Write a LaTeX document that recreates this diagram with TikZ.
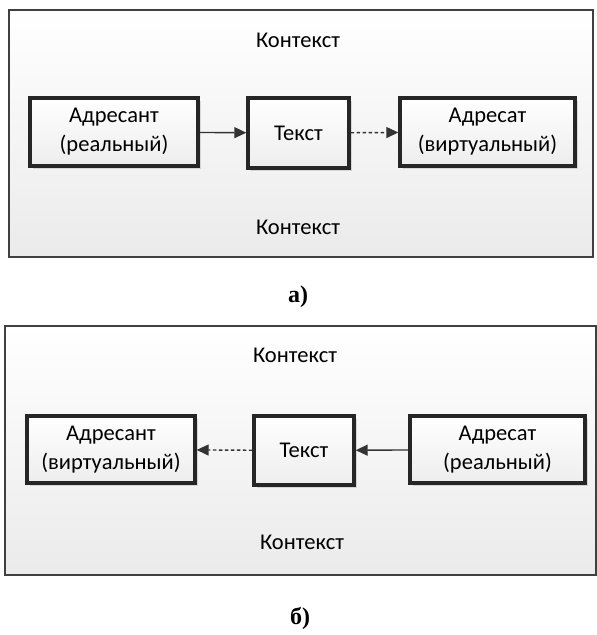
\documentclass[tikz,border=0pt]{standalone}
\usepackage{fontspec}
\setmainfont{Carlito}
\newfontfamily\capfont{Liberation Serif}
\usetikzlibrary{arrows.meta,shadows}

\begin{document}
\begin{tikzpicture}[x=1pt,y=-1pt]
            \tikzstyle{panel} = [draw=black!75, line width=2.2pt, top color=white, bottom color=black!8, inner sep=0pt]
            \tikzstyle{agent} = [draw=black!85, line width=3.4pt, top color=white, bottom color=black!7, drop shadow={shadow xshift=2.5pt, shadow yshift=-2.5pt, opacity=.25}, align=center, inner sep=0pt, font=\fontsize{22.5}{29}\selectfont]
            \tikzstyle{ctx} = [font=\fontsize{22.5}{29}\selectfont]
            \tikzstyle{figlabel} = [font=\capfont\bfseries\fontsize{24}{28}\selectfont]
            \tikzstyle{flow} = [line width=1.4pt, black!80, -{Triangle[length=12pt,width=11pt]}]
            \tikzstyle{virt} = [flow, dash pattern=on 3.5pt off 2.5pt]

            \useasboundingbox (0,0) rectangle (597,635);

            % a)
            \node [panel, minimum width=584pt, minimum height=247pt] (ctxA) at (301,133.5) {};
            \node [ctx] (ctxAtop) at (298,40) {Контекст};
            \node [ctx] (ctxAbot) at (298,227) {Контекст};
            \node [agent, minimum width=168pt, minimum height=68pt] (senderA) at (114,132) {Адресант\\(реальный)};
            \node [agent, minimum width=101pt, minimum height=70pt] (textA) at (298.5,133) {Текст};
            \node [agent, minimum width=175pt, minimum height=68pt] (receiverA) at (487.5,132) {Адресат\\(виртуальный)};
            \draw [flow] (senderA) -- (textA);
            \draw [virt] (textA) -- (receiverA);
            \node [figlabel] (labelA) at (298,297) {а)};

            % б)
            \node [panel, minimum width=591pt, minimum height=249pt] (ctxB) at (300.5,450.5) {};
            \node [ctx] (ctxBtop) at (295,355) {Контекст};
            \node [ctx] (ctxBbot) at (302,542) {Контекст};
            \node [agent, minimum width=168pt, minimum height=67pt] (receiverB) at (111,449.5) {Адресант\\(виртуальный)};
            \node [agent, minimum width=100pt, minimum height=69pt] (textB) at (304,450.5) {Текст};
            \node [agent, minimum width=175pt, minimum height=67pt] (senderB) at (497.5,449.5) {Адресат\\(реальный)};
            \draw [virt] (textB) -- (receiverB);
            \draw [flow] (senderB) -- (textB);
            \node [figlabel] (labelB) at (300,618) {б)};
        \end{tikzpicture}
\end{document}
